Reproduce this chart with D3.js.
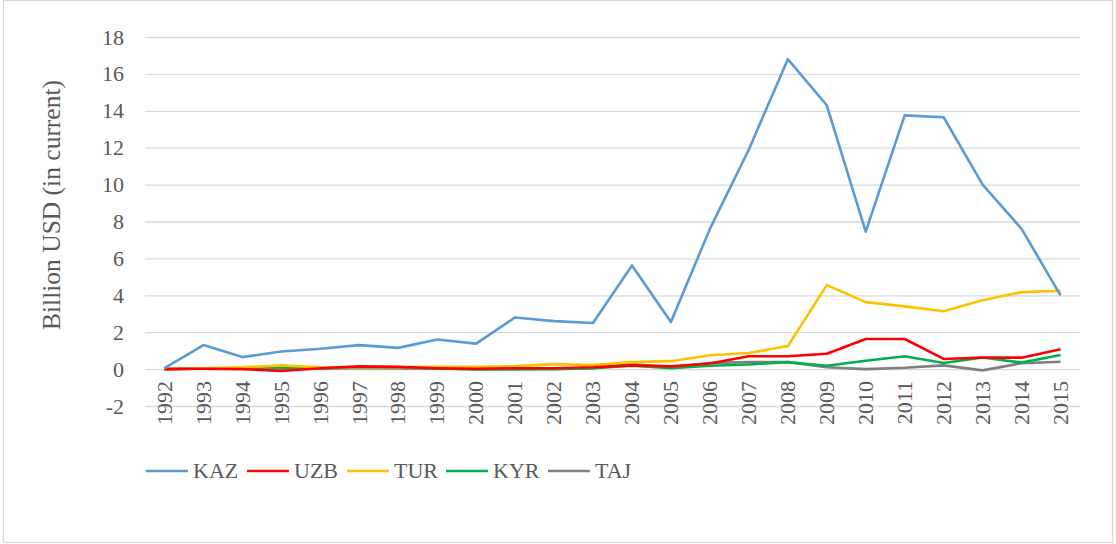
<!DOCTYPE html>
<html>
<head>
<meta charset="utf-8">
<script src="https://cdnjs.cloudflare.com/ajax/libs/d3/7.8.5/d3.min.js"></script>
<style>
  html, body { margin: 0; padding: 0; background: #fff; }
  svg { display: block; }
</style>
</head>
<body>
<svg id="chart" width="1116" height="544"></svg>
<script>
// Annual flows, billion USD (current), 1992–2015
const years = d3.range(1992, 2016).map(String);
const kaz = [0.05, 1.3, 0.65, 0.95, 1.1, 1.3, 1.15, 1.6, 1.38, 2.8, 2.6, 2.5, 5.62, 2.55, 7.6, 11.9, 16.8, 14.3, 7.45, 13.75, 13.65, 10.0, 7.6, 4.0];
const uzb = [0.0, 0.02, 0.0, -0.1, 0.05, 0.15, 0.12, 0.05, 0.02, 0.05, 0.05, 0.1, 0.2, 0.15, 0.3, 0.7, 0.7, 0.83, 1.63, 1.63, 0.55, 0.63, 0.62, 1.08];
const tur = [0.0, 0.05, 0.1, 0.2, 0.1, 0.1, 0.1, 0.12, 0.12, 0.16, 0.27, 0.22, 0.38, 0.43, 0.75, 0.87, 1.25, 4.55, 3.63, 3.4, 3.14, 3.73, 4.17, 4.25];
const kyr = [0.0, 0.05, 0.05, 0.1, 0.05, 0.1, 0.1, 0.05, -0.02, 0.0, 0.0, 0.05, 0.18, 0.05, 0.18, 0.25, 0.38, 0.18, 0.45, 0.7, 0.33, 0.63, 0.35, 0.76];
const taj = [0.0, 0.03, 0.03, 0.03, 0.03, 0.05, 0.04, 0.02, 0.0, 0.0, 0.02, 0.05, 0.27, 0.1, 0.33, 0.38, 0.38, 0.1, 0.0, 0.07, 0.2, -0.07, 0.32, 0.4];
const yTicks = [-2, 0, 2, 4, 6, 8, 10, 12, 14, 16, 18];
const yTitle = "Billion USD (in current)";

const series = [
  { name: "KAZ", values: kaz, color: "#5B9BD5" },
  { name: "UZB", values: uzb, color: "#FF0000" },
  { name: "TUR", values: tur, color: "#FFC000" },
  { name: "KYR", values: kyr, color: "#00B050" },
  { name: "TAJ", values: taj, color: "#7F7F7F" }
];

const FONT = "Liberation Serif";
const TEXT = "#595959";

const svg = d3.select("#chart");

// outer frame
svg.append("rect")
  .attr("x", 3.5).attr("y", 0.5)
  .attr("width", 1109).attr("height", 542)
  .attr("fill", "#fff").attr("stroke", "#D9D9D9").attr("stroke-width", 1.3);

const plot = { left: 145, right: 1080, top: 37, bottom: 406 };

const x = d3.scaleBand().domain(years).range([plot.left, plot.right]);
const y = d3.scaleLinear().domain([-2, 18]).range([plot.bottom, plot.top]);
const cx = d => x(d) + x.bandwidth() / 2;

// horizontal gridlines + value labels
const yAxis = d3.axisLeft(y).tickValues(yTicks).tickFormat(d => String(d))
  .tickSize(-(plot.right - plot.left)).tickPadding(21);
const gy = svg.append("g").attr("transform", `translate(${plot.left},0)`).call(yAxis);
gy.attr("font-family", null).attr("font-size", null);
gy.select(".domain").remove();
gy.selectAll(".tick line").attr("stroke", "#D9D9D9").attr("stroke-width", 1.3);
gy.selectAll(".tick text")
  .attr("font-family", FONT).attr("font-size", 22).attr("fill", TEXT);

// category labels, rotated, hanging below the zero line
const xAxis = d3.axisBottom(x).tickSize(0).tickPadding(0);
const gx = svg.append("g").attr("transform", `translate(0,${y(0)})`).call(xAxis);
gx.attr("font-family", null).attr("font-size", null);
gx.select(".domain").remove();
gx.selectAll(".tick text")
  .attr("font-family", FONT).attr("font-size", 22).attr("fill", TEXT)
  .attr("text-anchor", "end")
  .attr("transform", "translate(0,12) rotate(-90)")
  .attr("x", 0).attr("y", 0).attr("dy", "0.33em");

// axis title
svg.append("text")
  .attr("transform", `translate(52,205) rotate(-90)`)
  .attr("text-anchor", "middle").attr("dy", "0.33em")
  .attr("font-family", FONT).attr("font-size", 25.5).attr("fill", TEXT)
  .text(yTitle);

// series lines
const line = d3.line().x((d, i) => cx(years[i])).y(d => y(d));
svg.append("g").selectAll("path")
  .data(series.slice().reverse())
  .join("path")
  .attr("d", s => line(s.values))
  .attr("fill", "none")
  .attr("stroke", s => s.color)
  .attr("stroke-width", 2.6)
  .attr("stroke-linejoin", "round");

// legend
const legendX = [146, 247, 347, 446, 548];
const lg = svg.append("g").attr("transform", "translate(0,471)");
const items = lg.selectAll("g").data(series).join("g")
  .attr("transform", (d, i) => `translate(${legendX[i]},0)`);
items.append("line")
  .attr("x1", 0).attr("x2", 42).attr("y1", 0).attr("y2", 0)
  .attr("stroke", d => d.color).attr("stroke-width", 2.6);
items.append("text")
  .attr("x", 47).attr("dy", "0.33em")
  .attr("font-family", FONT).attr("font-size", 22).attr("fill", TEXT)
  .text(d => d.name);
</script>
</body>
</html>
